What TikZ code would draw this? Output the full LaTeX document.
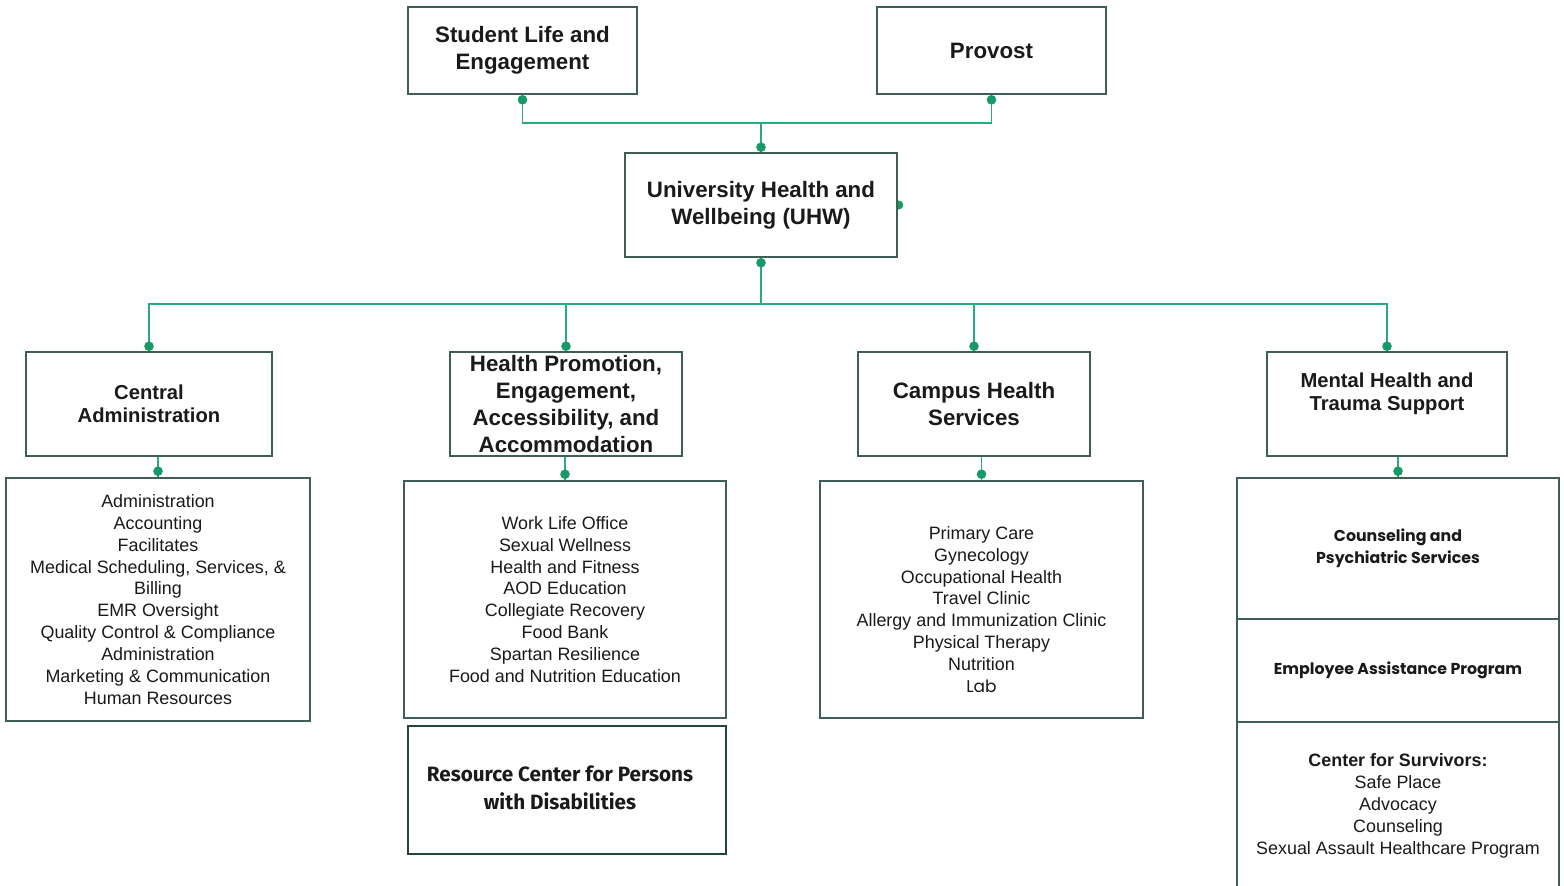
\documentclass[tikz,border=0pt]{standalone}
\usepackage{fontspec}
\setmainfont{Liberation Sans}
\newfontfamily\popfont{Poppins}
\newfontfamily\firafont{Fira Sans}
\usetikzlibrary{backgrounds,calc}
\definecolor{boxc}{HTML}{3F5F52}
\definecolor{darkbox}{HTML}{1F4638}
\definecolor{linec}{HTML}{2BAA7E}
\definecolor{dotc}{HTML}{169A68}
\definecolor{txt}{HTML}{1A1A1A}
\begin{document}
\begin{tikzpicture}[x=1pt,y=-1pt,
  box/.style={draw=boxc, line width=1.6pt, fill=white, inner sep=0pt, text=txt, align=center},
  head/.style={font=\bfseries\fontsize{22.3}{27}\selectfont},
  heads/.style={font=\bfseries\fontsize{20.2}{23.5}\selectfont},
  listtxt/.style={font=\fontsize{17.9}{21.9}\selectfont},
  poptxt/.style={font=\popfont\bfseries\fontsize{15.8}{22}\selectfont},
  conn/.style={draw=linec, line width=1.6pt},
  txtnode/.style={inner sep=0pt, align=center, text=txt},
  dotstyle/.style={fill=dotc}
]
\useasboundingbox (0,0) rectangle (1564,886);

% top level
\node[box, head, minimum width=229pt, minimum height=87pt] (sle) at (522.5,50.5) {Student Life and\\Engagement};
\node[box, head, minimum width=229pt, minimum height=87pt] (prov) at (991.5,50.5) {Provost};
\node[box, head, minimum width=272pt, minimum height=104pt] (uhw) at (761,205) {University Health and\\Wellbeing (UHW)};

% level 2
\node[box, heads, minimum width=246pt, minimum height=104pt] (ca) at (149,404) {Central\\Administration};
\node[box, head, minimum width=232pt, minimum height=104pt] (hp) at (566,404) {Health Promotion,\\Engagement,\\Accessibility, and\\Accommodation};
\node[box, head, minimum width=232pt, minimum height=104pt] (chs) at (974,404) {Campus Health\\Services};
\node[box, minimum width=240pt, minimum height=104pt] (mh) at (1387,404) {};
\node[txtnode, heads] (mhtext) at (1387,394) {Mental Health and\\Trauma Support};

% lists
\node[box, listtxt, minimum width=304pt, minimum height=243pt] (calist) at (158,599.5) {Administration\\Accounting\\Facilitates\\Medical Scheduling, Services, \&\\Billing\\EMR Oversight\\Quality Control \& Compliance\\Administration\\Marketing \& Communication\\Human Resources};
\node[box, listtxt, minimum width=322pt, minimum height=237pt] (hplist) at (565,599.5) {Work Life Office\\Sexual Wellness\\Health and Fitness\\AOD Education\\Collegiate Recovery\\Food Bank\\Spartan Resilience\\Food and Nutrition Education};
\node[box, draw=darkbox, line width=2.4pt, minimum width=318pt, minimum height=128pt] (rc) at (567,790) {};
\node[txtnode, font=\firafont\bfseries\fontsize{20.7}{28.5}\selectfont] (rctext) at (560,788) {Resource Center for Persons\\with Disabilities};
\node[box, minimum width=323pt, minimum height=237pt] (chslist) at (981.5,599.5) {};
\node[txtnode, listtxt] (chstext) at (981.5,609.5) {Primary Care\\Gynecology\\Occupational Health\\Travel Clinic\\Allergy and Immunization Clinic\\Physical Therapy\\Nutrition\\{\popfont\fontsize{17}{21.9}\selectfont Lab}};

\node[box, poptxt, minimum width=322pt, minimum height=141pt] (mh1) at (1398,548.5) {Counseling and\\Psychiatric Services};
\node[box, poptxt, minimum width=322pt, minimum height=103pt] (mh2) at (1398,670.5) {Employee Assistance Program};
\node[box, listtxt, minimum width=322pt, minimum height=168pt] (mh3) at (1398,806) {{\bfseries Center for Survivors:}\\Safe Place\\Advocacy\\Counseling\\Sexual Assault Healthcare Program};

% connectors
\coordinate (j1) at (761,123);
\coordinate (j2) at (761,304);
\draw[conn] (sle.south) |- (j1) -| (prov.south);
\draw[conn] (j1) -- (uhw.north);
\draw[conn] (uhw.south) -- (j2);
\draw[conn] (ca.north) -- (ca.north |- j2) -- (mh.north |- j2) -- (mh.north);
\draw[conn] (hp.north) -- (hp.north |- j2);
\draw[conn] (chs.north) -- (chs.north |- j2);
\draw[conn] (calist.north) -- (calist.north |- ca.south);
\draw[conn] (hplist.north) -- (hplist.north |- hp.south);
\draw[conn] (chslist.north) -- (chslist.north |- chs.south);
\draw[conn] (mh1.north) -- (mh1.north |- mh.south);

% dots
\fill[dotstyle] ($(sle.south)+(0,5)$) circle (4.8pt);
\fill[dotstyle] ($(prov.south)+(0,5)$) circle (4.8pt);
\fill[dotstyle] ($(uhw.north)+(0,-5)$) circle (4.8pt);
\fill[dotstyle] ($(uhw.south)+(0,5)$) circle (4.8pt);
\fill[dotstyle] ($(ca.north)+(0,-5)$) circle (4.8pt);
\fill[dotstyle] ($(hp.north)+(0,-5)$) circle (4.8pt);
\fill[dotstyle] ($(chs.north)+(0,-5)$) circle (4.8pt);
\fill[dotstyle] ($(mh.north)+(0,-5)$) circle (4.8pt);
\fill[dotstyle] ($(calist.north)+(0,-6)$) circle (4.8pt);
\fill[dotstyle] ($(hplist.north)+(0,-6)$) circle (4.8pt);
\fill[dotstyle] ($(chslist.north)+(0,-6)$) circle (4.8pt);
\fill[dotstyle] ($(mh1.north)+(0,-6)$) circle (4.8pt);
\begin{scope}[on background layer]
\fill[dotstyle] ($(uhw.east)+(1,0)$) circle (4.5pt);
\end{scope}
\end{tikzpicture}
\end{document}
